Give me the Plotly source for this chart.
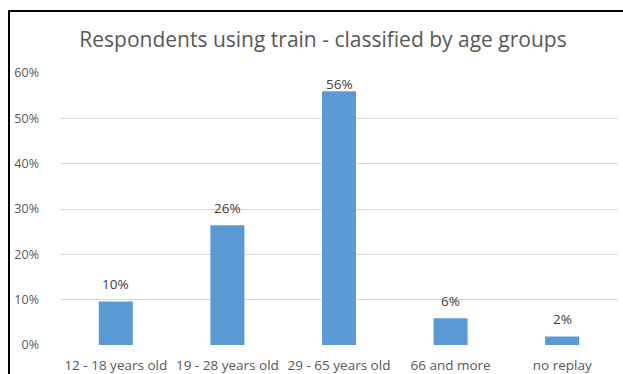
import plotly.graph_objects as go

categories = ["12 - 18 years old", "19 - 28 years old", "29 - 65 years old", "66 and more", "no replay"]
shares = [0.096, 0.264, 0.560, 0.059, 0.019]
y_ticks = [0, 0.1, 0.2, 0.3, 0.4, 0.5, 0.6]
title_text = "Respondents using train - classified by age groups"

FONT = "Open Sans"
W, H = 623, 374
M_L, M_R, M_T, M_B = 60, 5, 73, 28.5

fig = go.Figure()
fig.add_trace(go.Bar(
    x=categories, y=shares,
    marker=dict(color="#5B9BD5", line=dict(width=0)),
    hoverinfo="skip",
))

for c, v in zip(categories, shares):
    fig.add_annotation(
        x=c, y=min(v + 0.038, 0.575), text=f"{v:.0%}", showarrow=False,
        xref="x", yref="y", yanchor="middle",
        font=dict(family=FONT, size=13.5, color="#404040"),
    )

fig.update_layout(
    width=W, height=H, autosize=False,
    paper_bgcolor="white", plot_bgcolor="white",
    margin=dict(l=M_L, r=M_R, t=M_T, b=M_B),
    bargap=0.695,
    showlegend=False,
    title=dict(text=title_text, x=323 / W, xanchor="center", y=1 - 40 / H, yanchor="middle",
               xref="container", yref="container",
               font=dict(family=FONT, size=21, color="#595959")),
    font=dict(family=FONT, size=12, color="#595959"),
)
fig.update_yaxes(
    range=[0, 0.6], tickvals=y_ticks, tickformat=".0%",
    showgrid=True, gridcolor="#D9D9D9", gridwidth=1,
    zeroline=False, showline=False, ticks="", ticklabelstandoff=20,
    automargin=False,
    tickfont=dict(family=FONT, size=12.5, color="#595959"),
)
fig.update_xaxes(
    showgrid=False, showline=False, ticks="", ticklabelstandoff=10,
    automargin=False,
    tickfont=dict(family=FONT, size=13.5, color="#595959"),
)

fig.write_html("out.html", config={"displayModeBar": False})
with open("out.html", encoding="utf-8") as f:
    html = f.read()
# black frame of the cropped screenshot (left and top edges only), drawn as a page overlay
frame_div = ('<div style="position:absolute;left:7.5px;top:9.7px;width:800px;height:600px;'
             'border-left:2px solid black;border-top:2px solid black;'
             'pointer-events:none;z-index:10"></div>')
html = html.replace("<body>", '<body style="margin:0;padding:0;overflow:hidden;position:relative">' + frame_div, 1)
with open("out.html", "w", encoding="utf-8") as f:
    f.write(html)
